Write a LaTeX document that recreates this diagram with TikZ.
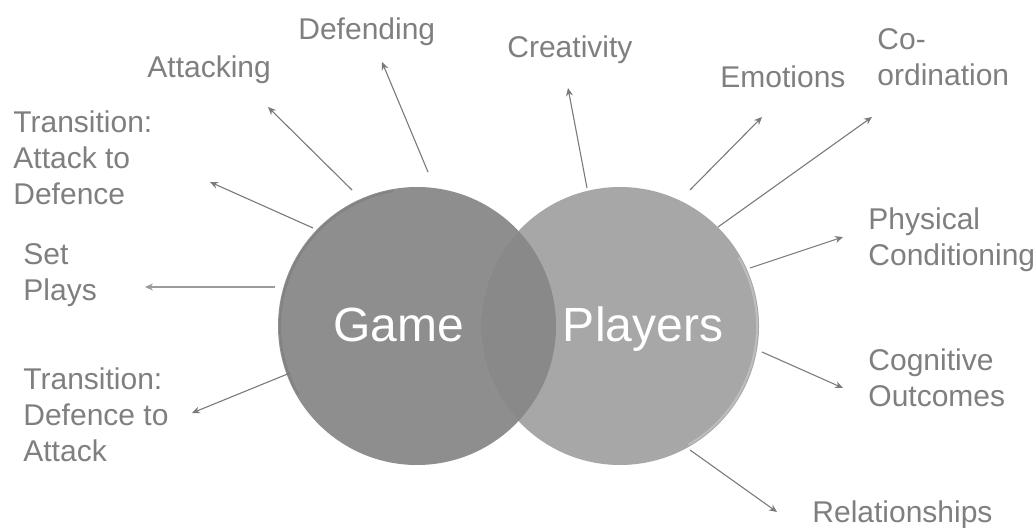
\documentclass[tikz,border=0pt]{standalone}
\usepackage{fontspec}
\setmainfont{Liberation Sans}
\usetikzlibrary{arrows.meta}
\definecolor{gamefill}{HTML}{8E8E8E}
\definecolor{playfill}{HTML}{A7A7A7}
\definecolor{lensfill}{HTML}{898989}
\definecolor{labelgray}{HTML}{7F7F7F}
\definecolor{arrowgray}{HTML}{7A7A7A}
\begin{document}
\begin{tikzpicture}[x=0.5pt,y=-0.5pt,
 lbl/.style={anchor=north west, inner sep=0pt, align=left, text=labelgray, font=\fontsize{15}{18}\selectfont},
 big/.style={anchor=base, inner sep=0pt, text=white, font=\fontsize{24}{28}\selectfont},
 arr/.style={draw=arrowgray, line width=0.55pt, -{Stealth[length=4pt,width=3.5pt]}},
 circ/.style={circle, minimum size=139pt, inner sep=0pt}]
\useasboundingbox (0,0) rectangle (1036,528);
% circles
\node[circ, fill=gamefill] (game) at (417,326) {};
\node[circ, fill=playfill] (players) at (620,326) {};
\begin{scope}
\clip (417,326) circle[radius=139];
\fill[lensfill] (620,326) circle[radius=139];
\end{scope}
\draw[white, opacity=0.25, line width=1pt] (620,326) ++(60:137) arc[start angle=60, end angle=-30, radius=137];
\draw[black, opacity=0.08, line width=1pt] (417,326) ++(150:137) arc[start angle=150, end angle=260, radius=137];
\node[big] (gametxt) at (399,342) {Game};
\node[big] (playtxt) at (643,342) {Players};
% labels
\node[lbl] (defending) at (298,17) {Defending};
\node[lbl] (attacking) at (147,55) {Attacking};
\node[lbl] (transad) at (13,110) {Transition:\\Attack to\\Defence};
\node[lbl] (setplays) at (23,243) {Set\\Plays};
\node[lbl] (transda) at (23,367) {Transition:\\Defence to\\Attack};
\node[lbl] (creativity) at (507,35) {Creativity};
\node[lbl] (emotions) at (720,65) {Emotions};
\node[lbl] (coord) at (877,28) {Co-\\ordination};
\node[lbl] (physical) at (868,207) {Physical\\Conditioning};
\node[lbl] (cognitive) at (868,348) {Cognitive\\Outcomes};
\node[lbl] (relations) at (812,500) {Relationships};
% arrow end points
\coordinate (s1) at (428,172); \coordinate (e1) at (382,62);
\coordinate (s2) at (352,190); \coordinate (e2) at (268,107);
\coordinate (s3) at (313,228); \coordinate (e3) at (210,182);
\coordinate (s4) at (275,287); \coordinate (e4) at (145,287);
\coordinate (s5) at (290,373); \coordinate (e5) at (192,413);
\coordinate (s6) at (587,188); \coordinate (e6) at (568,88);
\coordinate (s7) at (690,190); \coordinate (e7) at (762,117);
\coordinate (s8) at (718,227); \coordinate (e8) at (872,117);
\coordinate (s9) at (750,268); \coordinate (e9) at (843,237);
\coordinate (s10) at (762,352); \coordinate (e10) at (843,388);
\coordinate (s11) at (690,450); \coordinate (e11) at (777,512);
\draw[arr] (s1) -- (e1);
\draw[arr] (s2) -- (e2);
\draw[arr] (s3) -- (e3);
\draw[arr, draw=arrowgray!75, line width=1.3pt] (s4) -- (e4);
\draw[arr] (s5) -- (e5);
\draw[arr] (s6) -- (e6);
\draw[arr] (s7) -- (e7);
\draw[arr] (s8) -- (e8);
\draw[arr] (s9) -- (e9);
\draw[arr] (s10) -- (e10);
\draw[arr] (s11) -- (e11);
\end{tikzpicture}
\end{document}
